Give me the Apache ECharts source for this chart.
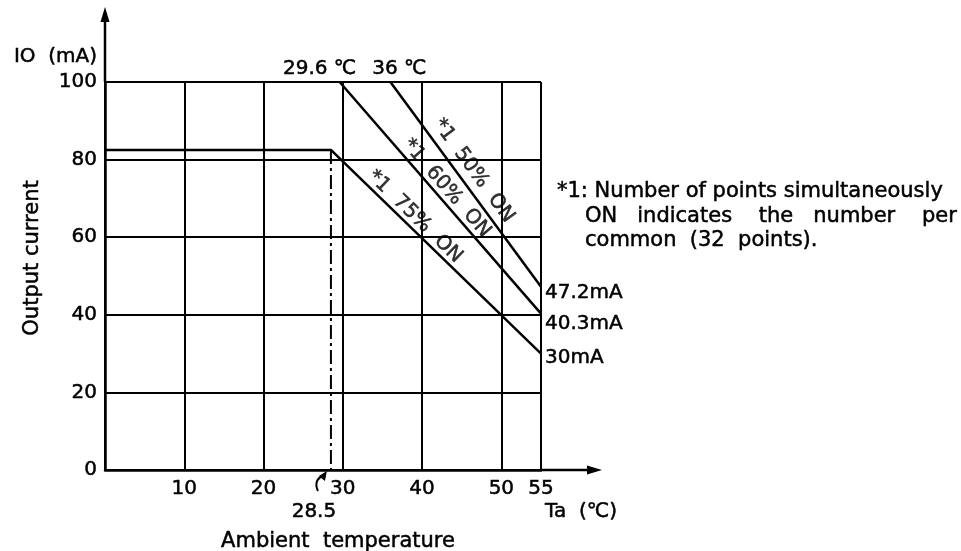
<!DOCTYPE html>
<html>
<head>
<meta charset="utf-8">
<script src="https://cdn.jsdelivr.net/npm/echarts@6/dist/echarts.min.js"></script>
<style>
html,body{margin:0;padding:0;background:#fff;}
#main{width:961px;height:551px;}
</style>
</head>
<body>
<div id="main"></div>
<script>
// ---- data ----
const xTicks = [0, 10, 20, 30, 40, 50, 55];
const yTicks = [0, 20, 40, 60, 80, 100];
const on75 = [[0, 82.5], [28.5, 82.5], [55, 30]];
const on60 = [[29.6, 100], [55, 40.3]];
const on50 = [[36, 100], [55, 47.2]];
const refTemp = [[28.5, 82.5], [28.5, 0]];
const startLabels = ['', '29.6 \u2103', '36 \u2103'];
const endLabels = ['30mA', '40.3mA', '47.2mA'];
const annotX = [46.5, 43.1, 39.1];
const annotY = [77.1, 72.6, 65.3];
const annotText = ['*1  50%  ON', '*1  60%  ON', '*1  75%  ON'];
const noteLines = ['*1: Number of points simultaneously', 'ON   indicates    the   number    per', 'common  (32  points).'];

const FONT = 'DejaVu Sans';
const INK = '#000';
const lineStyle = { color: INK, width: 2.5 };
const thick = { textBorderColor: INK, textBorderWidth: 0.5 };

function buildLine(name, pts, startLbl, endLbl, startOff, endOff) {
  return {
    name: name, type: 'line', data: pts.map(function (p, i) {
      const d = { value: p };
      if (i === 0 && startLbl) {
        d.label = Object.assign({ show: true, position: 'top', distance: 3, formatter: startLbl, offset: startOff,
          fontFamily: FONT, fontSize: 20, color: INK }, thick);
      }
      if (i === pts.length - 1 && endLbl) {
        d.label = Object.assign({ show: true, position: 'right', distance: 4, formatter: endLbl, offset: endOff,
          fontFamily: FONT, fontSize: 20, color: INK }, thick);
      }
      return d;
    }),
    symbol: 'circle', symbolSize: 0, showSymbol: true, showAllSymbol: true,
    itemStyle: { color: INK },
    lineStyle: lineStyle, z: 5, silent: true
  };
}

const chart = echarts.init(document.getElementById('main'));
const option = {
  animation: false,
  backgroundColor: '#fff',
  grid: { left: 105, right: 420, top: 82, bottom: 81 },
  xAxis: {
    type: 'value', min: xTicks[0], max: xTicks[xTicks.length - 1], interval: 10,
    axisLine: { show: true, lineStyle: { color: INK, width: 2.5 } },
    axisTick: { show: false },
    splitLine: { show: true, lineStyle: { color: INK, width: 2 } },
    axisLabel: Object.assign({ margin: 9, fontFamily: FONT, fontSize: 20, color: INK,
      formatter: function (v) { return v === 0 ? '' : String(v); } }, thick)
  },
  yAxis: {
    type: 'value', min: yTicks[0], max: yTicks[yTicks.length - 1], interval: 20,
    axisLine: { show: true, lineStyle: { color: INK, width: 2.5 } },
    axisTick: { show: false },
    splitLine: { show: true, lineStyle: { color: INK, width: 2 } },
    axisLabel: Object.assign({ margin: 8, fontFamily: FONT, fontSize: 20, color: INK }, thick)
  },
  series: [
    buildLine('75% ON', on75, '', endLabels[0], [0, 0], [0, 4]),
    buildLine('60% ON', on60, startLabels[1], endLabels[1], [-20, 0], [0, 10]),
    buildLine('50% ON', on50, startLabels[2], endLabels[2], [9, 0], [0, 6]),
    {
      name: 'ref', type: 'line', data: refTemp, symbol: 'none', silent: true, z: 4,
      lineStyle: { color: INK, width: 2, type: [14, 4, 3, 4] }
    },
    {
      name: 'annot', type: 'scatter', symbolSize: 0, silent: true, z: 6,
      data: annotX.map(function (x, i) { return [x, annotY[i]]; })
    }
  ]
};
chart.setOption(option);

// rotate annotation labels along their lines
const lineSets = [on50, on60, on75];
const annotData = annotX.map(function (x, i) {
  const s = lineSets[i];
  const a = chart.convertToPixel({ gridIndex: 0 }, s[s.length - 2]);
  const b = chart.convertToPixel({ gridIndex: 0 }, s[s.length - 1]);
  const ang = Math.atan2(b[1] - a[1], b[0] - a[0]) * 180 / Math.PI;
  return {
    value: [x, annotY[i]],
    label: Object.assign({ show: true, position: 'inside', formatter: annotText[i],
      rotate: -ang, fontFamily: FONT, fontSize: 20, color: INK }, thick)
  };
});

const o = chart.convertToPixel({ gridIndex: 0 }, [0, 100]);
const e = chart.convertToPixel({ gridIndex: 0 }, [55, 0]);
const r = chart.convertToPixel({ gridIndex: 0 }, [28.5, 0]);
const txt = function (x, y, t, extra) {
  return Object.assign({ type: 'text', x: x, y: y, silent: true,
    style: Object.assign({ text: t, fontFamily: FONT, fontSize: 20, fill: INK,
      stroke: INK, lineWidth: 0.5,
      align: 'left', verticalAlign: 'middle' }, extra || {}) });
};
chart.setOption({
  series: [{}, {}, {}, {}, { data: annotData }],
  graphic: [
    { type: 'line', silent: true, shape: { x1: o[0], y1: o[1], x2: o[0], y2: 18 }, style: { stroke: INK, lineWidth: 2.5 } },
    { type: 'polygon', silent: true, shape: { points: [[o[0], 7], [o[0] - 4.5, 22], [o[0] + 4.5, 22]] }, style: { fill: INK } },
    { type: 'line', silent: true, shape: { x1: e[0], y1: e[1], x2: 592, y2: e[1] }, style: { stroke: INK, lineWidth: 2.5 } },
    { type: 'polygon', silent: true, shape: { points: [[602, e[1]], [587, e[1] - 4.5], [587, e[1] + 4.5]] }, style: { fill: INK } },
    { type: 'bezierCurve', silent: true, shape: { x1: r[0] - 13, y1: r[1] + 21, cpx1: r[0] - 18, cpy1: r[1] + 10, x2: r[0] - 7, y2: r[1] + 5 }, style: { stroke: INK, lineWidth: 2, fill: null } },
    { type: 'polygon', silent: true, shape: { points: [[r[0] - 4, r[1] + 1], [r[0] - 12, r[1] + 6], [r[0] - 6, r[1] + 11]] }, style: { fill: INK } },
    txt(o[0] - 8, 57, 'IO  (mA)', { align: 'right' }),
    Object.assign(txt(33, 258, 'Output current', { align: 'center', fontSize: 21 }), { rotation: Math.PI / 2 }),
    txt(r[0] - 17, 512, '28.5', { align: 'center' }),
    txt(338, 542, 'Ambient  temperature', { align: 'center', fontSize: 21 }),
    txt(545, 512, 'Ta  (\u2103)'),
    txt(557, 192, noteLines[0], { fontSize: 21 }),
    txt(585, 216.5, noteLines[1], { fontSize: 21 }),
    txt(585, 241, noteLines[2], { fontSize: 21 })
  ]
});
</script>
</body>
</html>
